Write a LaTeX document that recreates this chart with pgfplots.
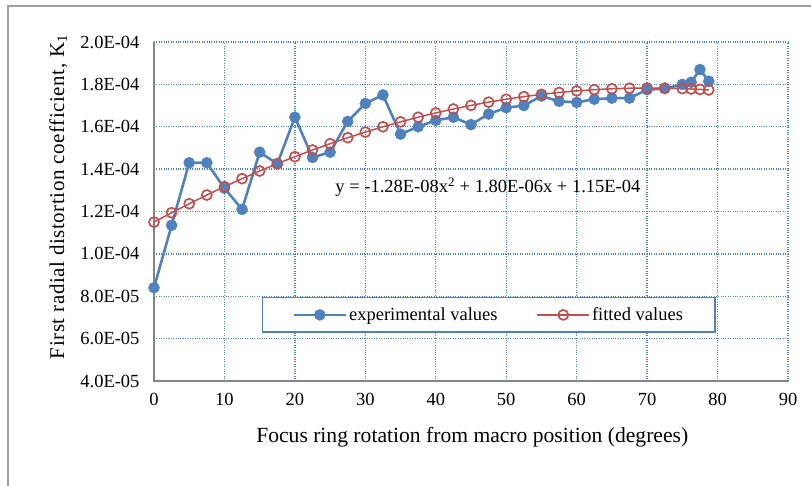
\documentclass[border=0pt]{standalone}
\usepackage{fontspec}
\setmainfont{Liberation Serif}
\newfontfamily\ylabfont[LetterSpace=2.7]{Liberation Serif}
\usepackage{pgfplots}
\pgfplotsset{compat=1.18}
\definecolor{xblue}{HTML}{4F81BD}
\definecolor{xred}{HTML}{C0504D}
\definecolor{xgrid}{HTML}{4F81BD}
\definecolor{xaxis}{HTML}{868686}
\begin{document}
\begin{tikzpicture}
\path[use as bounding box] (0,0) rectangle (811bp,486bp);
\draw[xaxis!80, line width=1.6bp] (8bp,0bp) -- (8bp,480bp) -- (811bp,480bp);
\begin{axis}[
  at={(154bp,105bp)}, anchor=south west,
  scale only axis, width=634bp, height=339bp,
  xmin=0, xmax=90, ymin=4e-5, ymax=2e-4,
  xtick={0,10,...,90},
  ytick={4e-5,6e-5,8e-5,1e-4,1.2e-4,1.4e-4,1.6e-4,1.8e-4,2e-4},
  yticklabels={4.0E-05,6.0E-05,8.0E-05,1.0E-04,1.2E-04,1.4E-04,1.6E-04,1.8E-04,2.0E-04},
  scaled y ticks=false,
  /pgf/number format/assume math mode=true,
  ticklabel style={font=\fontsize{18.5bp}{22bp}\selectfont},
  yticklabel style={xshift=-11bp},
  xticklabel style={yshift=-9bp},
  major tick length=0pt,
  axis x line*=bottom, axis y line*=left,
  axis line style={xaxis, line width=1.6bp, -},
  grid=major,
  major grid style={xgrid, dotted, line width=1.3bp},
  xlabel={Focus ring rotation from macro position (degrees)},
  ylabel={\ylabfont First radial distortion coefficient, K\textsubscript{1}},
  xlabel style={font=\fontsize{21.6bp}{24bp}\selectfont, at={(axis description cs:0.502,-0.165)}, anchor=center},
  ylabel style={font=\fontsize{21bp}{24bp}\selectfont, at={(axis description cs:-0.151,0.543)}, anchor=center},
  legend columns=2,
  legend style={at={(axis description cs:0.528,0.195)}, anchor=center,
    draw=xblue, line width=1.5bp, fill=white,
    font=\fontsize{18.5bp}{22bp}\selectfont,
    inner xsep=30bp, inner ysep=8bp,
    /tikz/every even column/.append style={column sep=37bp}},
  legend image code/.code={
    \draw[#1, mark repeat=2, mark phase=2] plot coordinates {(0bp,0bp) (26bp,0bp) (52bp,0bp)};},
]
\addplot[xblue, line width=2.6bp, mark=*, mark size=5.5bp, mark options={fill=xblue, draw=xblue, line width=0.5bp}] coordinates {
(0,0.84e-4) (2.5,1.135e-4) (5,1.43e-4) (7.5,1.43e-4) (10,1.31e-4) (12.5,1.21e-4)
(15,1.48e-4) (17.5,1.425e-4) (20,1.645e-4) (22.5,1.455e-4) (25,1.48e-4) (27.5,1.625e-4)
(30,1.71e-4) (32.5,1.75e-4) (35,1.565e-4) (37.5,1.60e-4) (40,1.63e-4) (42.5,1.645e-4)
(45,1.61e-4) (47.5,1.66e-4) (50,1.69e-4) (52.5,1.70e-4) (55,1.745e-4) (57.5,1.72e-4)
(60,1.715e-4) (62.5,1.73e-4) (65,1.735e-4) (67.5,1.735e-4) (70,1.775e-4) (72.5,1.78e-4)
(75,1.80e-4) (76.25,1.81e-4) (77.5,1.87e-4) (78.75,1.815e-4)
};
\addlegendentry{experimental values}
\addplot[xred, line width=1.5bp, mark=o, mark size=5bp, mark options={draw=xred, fill=white, line width=1.7bp}] coordinates {
(0,1.15e-4) (2.5,1.1942e-4) (5,1.2368e-4) (7.5,1.2778e-4) (10,1.3172e-4) (12.5,1.355e-4)
(15,1.3912e-4) (17.5,1.4258e-4) (20,1.4588e-4) (22.5,1.4902e-4) (25,1.52e-4) (27.5,1.5482e-4)
(30,1.5748e-4) (32.5,1.5998e-4) (35,1.6232e-4) (37.5,1.645e-4) (40,1.6652e-4) (42.5,1.6838e-4)
(45,1.7008e-4) (47.5,1.7162e-4) (50,1.73e-4) (52.5,1.7422e-4) (55,1.7528e-4) (57.5,1.7618e-4)
(60,1.7692e-4) (62.5,1.775e-4) (65,1.7792e-4) (67.5,1.7818e-4) (70,1.7828e-4) (72.5,1.7822e-4)
(75,1.78e-4) (76.25,1.7783e-4) (77.5,1.7762e-4) (78.75,1.7737e-4)
};
\addlegendentry{fitted values}
\node[font=\fontsize{18.5bp}{22bp}\selectfont, anchor=center] at (axis cs:47.4,1.316e-4)
  {y = -1.28E-08x\textsuperscript{2} + 1.80E-06x + 1.15E-04};
\end{axis}
\end{tikzpicture}
\end{document}
